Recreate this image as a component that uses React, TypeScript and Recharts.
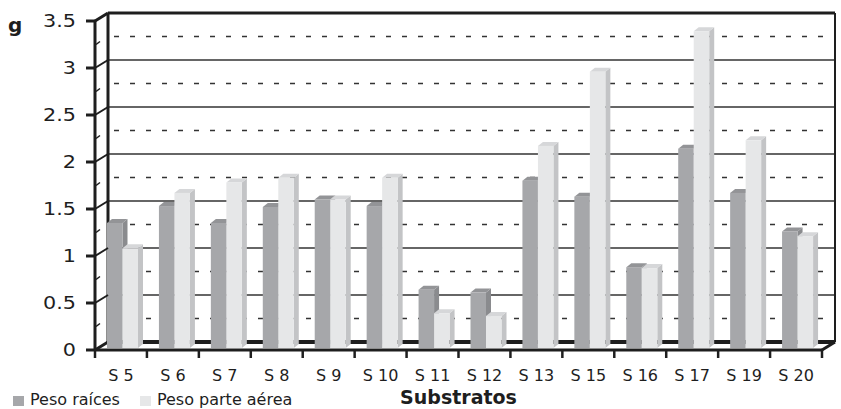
import React from 'react';
import { BarChart, Bar, XAxis, YAxis, CartesianGrid, Label } from 'recharts';

const CATEGORIES = ['S 5', 'S 6', 'S 7', 'S 8', 'S 9', 'S 10', 'S 11', 'S 12', 'S 13', 'S 15', 'S 16', 'S 17', 'S 19', 'S 20'];
const PESO_RAICES = [1.33, 1.51, 1.33, 1.5, 1.58, 1.51, 0.62, 0.59, 1.78, 1.61, 0.86, 2.12, 1.65, 1.24];
const PESO_AEREA = [1.06, 1.65, 1.76, 1.81, 1.58, 1.81, 0.37, 0.34, 2.15, 2.94, 0.85, 3.37, 2.21, 1.19];
const SERIES_NAMES = ['Peso raíces', 'Peso parte aérea'];
const Y_TICKS = [0, 0.25, 0.5, 0.75, 1, 1.25, 1.5, 1.75, 2, 2.25, 2.5, 2.75, 3, 3.25, 3.5];
const Y_MAX = 3.5;

const data = CATEGORIES.map((name, i) => ({ name, raices: PESO_RAICES[i], aerea: PESO_AEREA[i] }));

// layout
const W = 841;
const H = 409;
const MARGIN = { top: 21, right: 19, bottom: 0, left: 5 };
const Y_AXIS_W = 90;
const X_AXIS_H = 59;
const PLOT_W = W - MARGIN.left - MARGIN.right - Y_AXIS_W;
const BAND = PLOT_W / CATEGORIES.length;
// depth offset of the back wall
const DX = 13;
const DY = -8;
const FONT = '"DejaVu Sans", sans-serif';
const INK = '#1e1e1e';

const isMajor = (v: number) => Math.abs(v * 2 - Math.round(v * 2)) < 1e-6;

const makeBar = (front: string, side: string, top: string) => (props: any) => {
  const { x, y, width, height } = props;
  if (!height || height <= 0) return null;
  const bx = x + 2;
  const by = y - 2;
  const d = 5;
  const e = 4;
  return (
    <g>
      <polygon
        points={`${bx + width},${by} ${bx + width + d},${by - e} ${bx + width + d},${by + height - e} ${bx + width},${by + height}`}
        fill={side}
      />
      <polygon points={`${bx},${by} ${bx + d},${by - e} ${bx + width + d},${by - e} ${bx + width},${by}`} fill={top} />
      <rect x={bx} y={by} width={width} height={height} fill={front} />
    </g>
  );
};

const RaicesBar = makeBar('#a6a7aa', '#8a8b8e', '#939497');
const AereaBar = makeBar('#e6e7e8', '#c3c4c6', '#d6d7d9');

// back wall grid, floor and frame
const BackLine = (props: any) => {
  const { x1, x2, y1, y, height, index } = props;
  const value = Math.round(((y + height - y1) / height) * Y_MAX * 4) / 4;
  const bx1 = x1 + DX;
  const bx2 = x2 + DX;
  const by = y1 + DY;
  if (value === Y_MAX) {
    return (
      <g key={`g-${index}`}>
        <line x1={bx1} y1={by} x2={bx2} y2={by} stroke={INK} strokeWidth={3} />
        <line x1={bx1} y1={by} x2={bx1} y2={y + height + DY} stroke={INK} strokeWidth={3} />
        <line x1={bx2} y1={by} x2={bx2} y2={y + height + DY} stroke={INK} strokeWidth={2} />
        <line x1={x1} y1={y1} x2={bx1} y2={by} stroke={INK} strokeWidth={3} />
      </g>
    );
  }
  if (value === 0) {
    return (
      <g key={`g-${index}`}>
        <line x1={bx1} y1={by} x2={bx2} y2={by} stroke={INK} strokeWidth={4} />
        <line x1={x1} y1={y1} x2={bx1} y2={by} stroke={INK} strokeWidth={3} />
        <line x1={x2} y1={y1} x2={bx2} y2={by} stroke={INK} strokeWidth={3} />
      </g>
    );
  }
  if (isMajor(value)) {
    return <line key={`g-${index}`} x1={bx1} y1={by} x2={bx2} y2={by} stroke="#333" strokeWidth={1.6} />;
  }
  return (
    <line key={`g-${index}`} x1={bx1 + 6} y1={by} x2={bx2} y2={by} stroke="#333" strokeWidth={1.6} strokeDasharray="5 11" />
  );
};

const YTick = (props: any) => {
  const { x, y, payload } = props;
  const v = payload.value as number;
  if (!isMajor(v)) {
    return <line x1={x + 1} y1={y} x2={x + 5} y2={y - 3} stroke={INK} strokeWidth={1.5} />;
  }
  return (
    <g>
      <line x1={x - 9} y1={y} x2={x} y2={y} stroke={INK} strokeWidth={3} />
      {v !== 0 && v !== Y_MAX && <line x1={x} y1={y} x2={x + DX} y2={y + DY} stroke={INK} strokeWidth={2} />}
      <text
        transform={`translate(${x - 19},${y + 6}) scale(1.22,1)`}
        textAnchor="end"
        fontFamily={FONT}
        fontSize={17}
        fill={INK}
      >
        {String(v)}
      </text>
    </g>
  );
};

const XTick = (props: any) => {
  const { x, y, payload, index } = props;
  const last = index === CATEGORIES.length - 1;
  return (
    <g>
      <line x1={x - BAND / 2} y1={y} x2={x - BAND / 2} y2={y + 8} stroke={INK} strokeWidth={2.5} />
      {last && <line x1={x + BAND / 2} y1={y} x2={x + BAND / 2} y2={y + 8} stroke={INK} strokeWidth={2.5} />}
      <text x={x} y={y + 31} textAnchor="middle" fontFamily={FONT} fontSize={16} fill={INK}>
        {payload.value}
      </text>
    </g>
  );
};

const LEGEND_COLORS = ['#a6a7aa', '#e6e7e8'];

export default function App() {
  return (
    <div style={{ position: 'absolute', left: 0, top: 0, width: W, height: H, background: '#fff' }}>
      <BarChart width={W} height={H} data={data} margin={MARGIN} barGap={0} barSize={15.5}>
        <CartesianGrid horizontal={BackLine} vertical={false} />
        <XAxis
          dataKey="name"
          height={X_AXIS_H}
          axisLine={{ stroke: INK, strokeWidth: 3 }}
          tickLine={false}
          tickSize={0}
          tickMargin={0}
          interval={0}
          tick={XTick}
        >
          <Label
            content={(p: any) => (
              <text
                x={p.viewBox.x + p.viewBox.width / 2}
                y={p.viewBox.y + 54}
                textAnchor="middle"
                fontFamily={FONT}
                fontWeight="bold"
                fontSize={19}
                fill={INK}
              >
                Substratos
              </text>
            )}
          />
        </XAxis>
        <YAxis
          width={Y_AXIS_W}
          domain={[0, Y_MAX]}
          ticks={Y_TICKS}
          interval={0}
          axisLine={{ stroke: INK, strokeWidth: 3 }}
          tickLine={false}
          tickSize={0}
          tickMargin={0}
          tick={YTick}
        >
          <Label
            content={(p: any) => (
              <text x={p.viewBox.x + 3} y={p.viewBox.y + 11} fontFamily={FONT} fontWeight="bold" fontSize={20} fill={INK}>
                g
              </text>
            )}
          />
        </YAxis>
        <Bar dataKey="raices" name={SERIES_NAMES[0]} shape={RaicesBar} isAnimationActive={false} />
        <Bar dataKey="aerea" name={SERIES_NAMES[1]} shape={AereaBar} isAnimationActive={false} />
      </BarChart>
      <div
        style={{
          position: 'absolute',
          left: 13,
          top: 392,
          display: 'flex',
          alignItems: 'center',
          fontFamily: FONT,
          fontSize: 16,
          lineHeight: '16px',
          color: INK,
        }}
      >
        {SERIES_NAMES.map((n, i) => (
          <div key={n} style={{ display: 'flex', alignItems: 'center', marginRight: 20 }}>
            <span style={{ width: 11, height: 10, background: LEGEND_COLORS[i], marginRight: 6, marginTop: 2 }} />
            <span>{n}</span>
          </div>
        ))}
      </div>
    </div>
  );
}
